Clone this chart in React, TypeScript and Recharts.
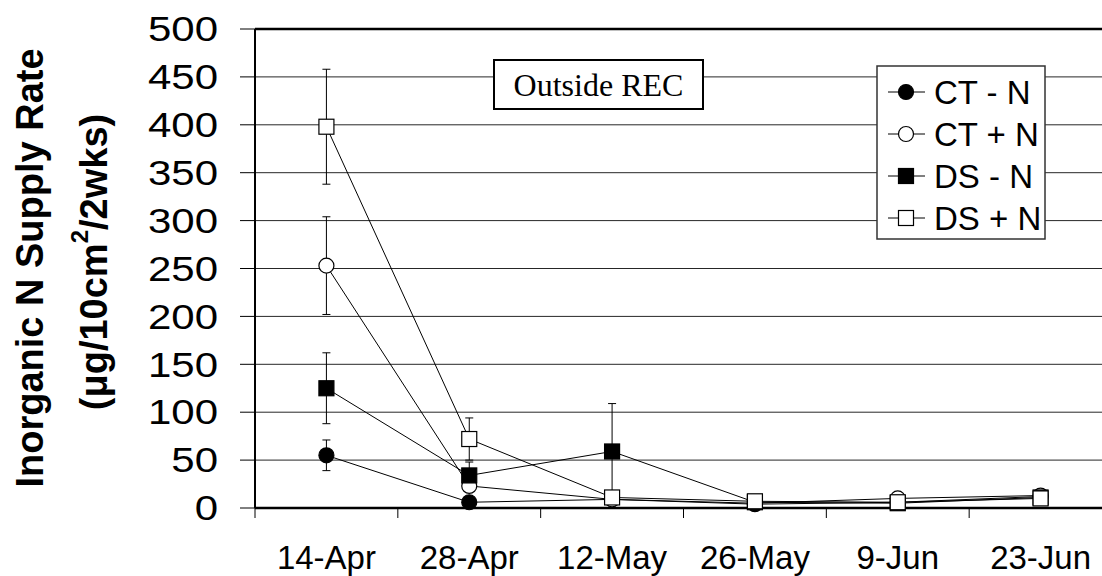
import React from 'react';
import { LineChart, Line, XAxis, YAxis, CartesianGrid, ErrorBar, Customized } from 'recharts';

const dates = ['14-Apr', '28-Apr', '12-May', '26-May', '9-Jun', '23-Jun'];
const ctMinusN = [55, 6, 9, 4, 6, 12];
const ctMinusNErr = [16, 0, 0, 0, 0, 0];
const ctPlusN = [253, 23, 9, 5, 10, 13];
const ctPlusNErr = [51, 0, 0, 0, 0, 0];
const dsMinusN = [125, 34, 59, 6, 5, 11];
const dsMinusNErr = [37, 14, 50, 0, 0, 0];
const dsPlusN = [398, 72, 11, 7, 6, 10];
const dsPlusNErr = [60, 22, 0, 0, 0, 0];
const yTicks = [0, 50, 100, 150, 200, 250, 300, 350, 400, 450, 500];
const seriesNames = ['CT - N', 'CT + N', 'DS - N', 'DS + N'];
const seriesKinds = ['circleFilled', 'circleOpen', 'squareFilled', 'squareOpen'];

const data = dates.map((d, i) => ({
  date: d,
  ctm: ctMinusN[i], ctmE: ctMinusNErr[i],
  ctp: ctPlusN[i], ctpE: ctPlusNErr[i],
  dsm: dsMinusN[i], dsmE: dsMinusNErr[i],
  dsp: dsPlusN[i], dspE: dsPlusNErr[i],
}));

const FONT = '"Liberation Sans", Arial, sans-serif';

function Marker({ kind, cx, cy }: { kind: string; cx: number; cy: number }) {
  const fill = kind.endsWith('Filled') ? '#000' : '#fff';
  if (kind.startsWith('circle')) {
    return <circle cx={cx} cy={cy} r={7.5} fill={fill} stroke="#000" strokeWidth={1.2} />;
  }
  return <rect x={cx - 7.5} y={cy - 7.5} width={15} height={15} fill={fill} stroke="#000" strokeWidth={1.2} />;
}

const dotFor = (kind: string) => (props: any) => {
  const { cx, cy, index } = props;
  if (cx == null || cy == null) return <g key={`n${index}`} />;
  return <Marker key={`${kind}${index}`} kind={kind} cx={cx} cy={cy} />;
};

function XTick(props: any) {
  const { x, y, payload } = props;
  const off = payload && payload.offset ? payload.offset : 71.5;
  return (
    <g>
      <line x1={x - off} x2={x - off} y1={y - 10} y2={y} stroke="#000" strokeWidth={1} />
      <text x={x} y={y + 51} textAnchor="middle" fontFamily={FONT} fontSize={33} fill="#000">
        {payload.value}
      </text>
    </g>
  );
}

function YTick(props: any) {
  const { x, y, payload } = props;
  return (
    <text
      transform={`translate(${x},${y}) scale(1.2,1)`}
      textAnchor="end"
      dominantBaseline="central"
      fontFamily={FONT}
      fontSize={35}
      fill="#000"
    >
      {payload.value}
    </text>
  );
}

function Overlay() {
  return (
    <g>
      <rect x={494} y={60} width={209} height={49} fill="#fff" stroke="#000" strokeWidth={2} />
      <text x={598.5} y={96} textAnchor="middle" fontFamily='"Liberation Serif", "Times New Roman", serif' fontSize={32} fill="#000">
        Outside REC
      </text>
      <text
        x={30}
        y={268}
        transform="rotate(-90, 30, 268)"
        textAnchor="middle"
        dominantBaseline="central"
        fontFamily={FONT}
        fontWeight="bold"
        fontSize={38}
        fill="#000"
      >
        Inorganic N Supply Rate
      </text>
      <text
        x={94}
        y={262}
        transform="rotate(-90, 94, 262)"
        textAnchor="middle"
        dominantBaseline="central"
        fontFamily={FONT}
        fontWeight="bold"
        fontSize={38}
        fill="#000"
      >
        (μg/10cm
        <tspan dy={-15} fontSize={24}>2</tspan>
        <tspan dy={15}>/2wks)</tspan>
      </text>
      <line x1={255} x2={1112} y1={29} y2={29} stroke="#000" strokeWidth={2.5} />
      <rect x={877} y={66} width={168} height={173} fill="#fff" stroke="#333" strokeWidth={1.5} />
      {seriesNames.map((n, i) => {
        const cy = 92 + i * 42;
        return (
          <g key={n}>
            <line x1={888} x2={925} y1={cy} y2={cy} stroke="#000" strokeWidth={1} />
            <Marker kind={seriesKinds[i]} cx={906} cy={cy} />
            <text x={934} y={cy} dominantBaseline="central" fontFamily={FONT} fontSize={33} fill="#000">
              {n}
            </text>
          </g>
        );
      })}
    </g>
  );
}

export default function App() {
  return (
    <div style={{ position: 'absolute', left: 0, top: 0, width: 1102, height: 576, overflow: 'hidden', background: '#fff' }}>
      <LineChart
        width={1130}
        height={576}
        data={data}
        margin={{ top: 29, right: 18, left: 0, bottom: 0 }}
      >
        <CartesianGrid horizontal vertical={false} stroke="#000" strokeWidth={1} strokeOpacity={0.85} />
        <XAxis
          dataKey="date"
          scale="band"
          height={68}
          axisLine={{ stroke: '#000', strokeWidth: 2.5 }}
          tickLine={false}
          tickSize={10}
          tickMargin={0}
          tick={<XTick />}
          interval={0}
        />
        <YAxis
          width={255}
          domain={[0, 500]}
          ticks={yTicks}
          interval={0}
          axisLine={{ stroke: '#000', strokeWidth: 2 }}
          tickLine={{ stroke: '#000', strokeWidth: 1 }}
          tickSize={15}
          tickMargin={22}
          tick={<YTick />}
        />
        <Line dataKey="ctm" stroke="#000" strokeWidth={1} isAnimationActive={false} dot={dotFor('circleFilled')} activeDot={false}>
          <ErrorBar dataKey="ctmE" width={4} stroke="#000" strokeWidth={1} direction="y" />
        </Line>
        <Line dataKey="ctp" stroke="#000" strokeWidth={1} isAnimationActive={false} dot={dotFor('circleOpen')} activeDot={false}>
          <ErrorBar dataKey="ctpE" width={4} stroke="#000" strokeWidth={1} direction="y" />
        </Line>
        <Line dataKey="dsm" stroke="#000" strokeWidth={1} isAnimationActive={false} dot={dotFor('squareFilled')} activeDot={false}>
          <ErrorBar dataKey="dsmE" width={4} stroke="#000" strokeWidth={1} direction="y" />
        </Line>
        <Line dataKey="dsp" stroke="#000" strokeWidth={1} isAnimationActive={false} dot={dotFor('squareOpen')} activeDot={false}>
          <ErrorBar dataKey="dspE" width={4} stroke="#000" strokeWidth={1} direction="y" />
        </Line>
        <Customized component={Overlay} />
      </LineChart>
    </div>
  );
}
